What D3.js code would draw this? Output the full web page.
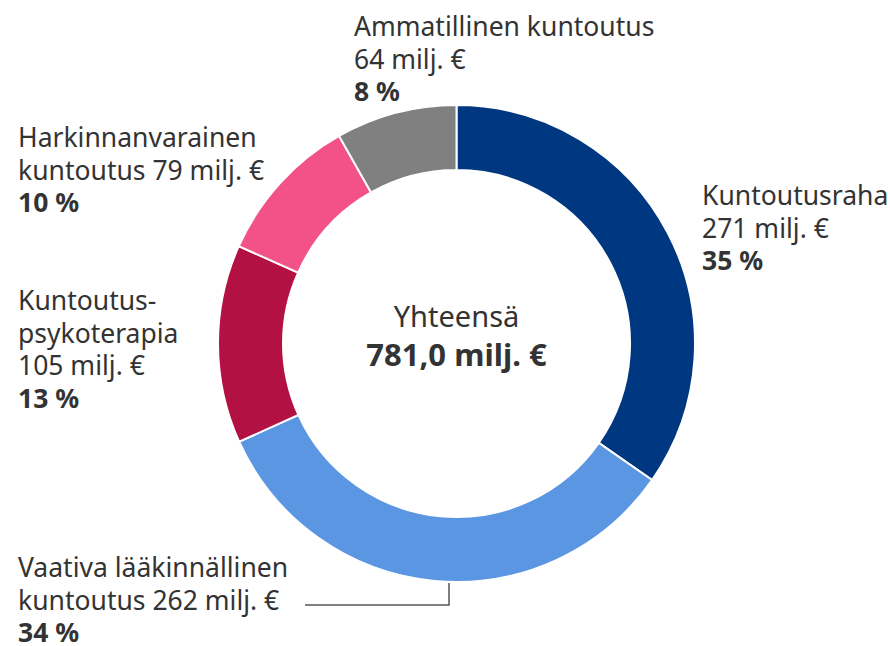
<!DOCTYPE html>
<meta charset="utf-8">
<style>
body { margin: 0; background: #fff; }
svg { font-family: "Noto Sans", "Open Sans", sans-serif; }
.lbl { fill: #333; font-size: 26.5px; }
.lbl .pct { font-weight: bold; }
</style>
<svg width="890" height="646"></svg>
<script src="https://d3js.org/d3.v7.min.js"></script>
<script>

var categories = ["Kuntoutusraha", "Vaativa lääkinnällinen kuntoutus", "Kuntoutuspsykoterapia", "Harkinnanvarainen kuntoutus", "Ammatillinen kuntoutus"];
var values = [271, 262, 105, 79, 64];
var colors = ["#003781", "#5b96e3", "#b31044", "#f25287", "#808080"];
// label text lines (the last line with the value is built from values)
var labelLines = [
  ["Kuntoutusraha", "{v} milj. €"],
  ["Vaativa lääkinnällinen", "kuntoutus {v} milj. €"],
  ["Kuntoutus-", "psykoterapia", "{v} milj. €"],
  ["Harkinnanvarainen", "kuntoutus {v} milj. €"],
  ["Ammatillinen kuntoutus", "{v} milj. €"]
];
var totalLabel = "Yhteensä";

var svg = d3.select("svg");
var cx = 456.5, cy = 343.5;
var total = d3.sum(values);

var pie = d3.pie().sort(null).value(function(d) { return d; });
var arc = d3.arc().innerRadius(173.5).outerRadius(238.5);

var g = svg.append("g").attr("transform", "translate(" + cx + "," + cy + ")");
g.selectAll("path")
  .data(pie(values))
  .enter().append("path")
    .attr("d", arc)
    .attr("fill", function(d, i) { return colors[i]; })
    .attr("stroke", "#fff")
    .attr("stroke-width", 2);

// label anchors (x, first baseline)
var labelPos = [
  [702, 205],
  [18, 577],
  [18, 310],
  [18, 147],
  [354, 36]
];
var lineH = 32.5;

labelLines.forEach(function(lines, i) {
  var t = svg.append("text").attr("class", "lbl")
    .attr("x", labelPos[i][0]).attr("y", labelPos[i][1]);
  lines.forEach(function(s, j) {
    t.append("tspan")
      .attr("x", labelPos[i][0])
      .attr("dy", j ? lineH : 0)
      .text(s.replace("{v}", values[i]));
  });
  t.append("tspan").attr("class", "pct")
    .attr("x", labelPos[i][0]).attr("dy", lineH)
    .text(Math.round(values[i] / total * 100) + " %");
});

// leader line for the bottom segment
svg.append("path")
  .attr("d", "M449,583V605H305")
  .attr("fill", "none")
  .attr("stroke", "#555")
  .attr("stroke-width", 1.5);

// center text
svg.append("text").attr("x", cx).attr("y", 327)
  .attr("text-anchor", "middle").attr("fill", "#333")
  .style("font-size", "29px")
  .text(totalLabel);
svg.append("text").attr("x", cx).attr("y", 366)
  .attr("text-anchor", "middle").attr("fill", "#333")
  .style("font-size", "31px").style("font-weight", "bold")
  .text(d3.format(".1f")(total).replace(".", ",") + " milj. €");

</script>
